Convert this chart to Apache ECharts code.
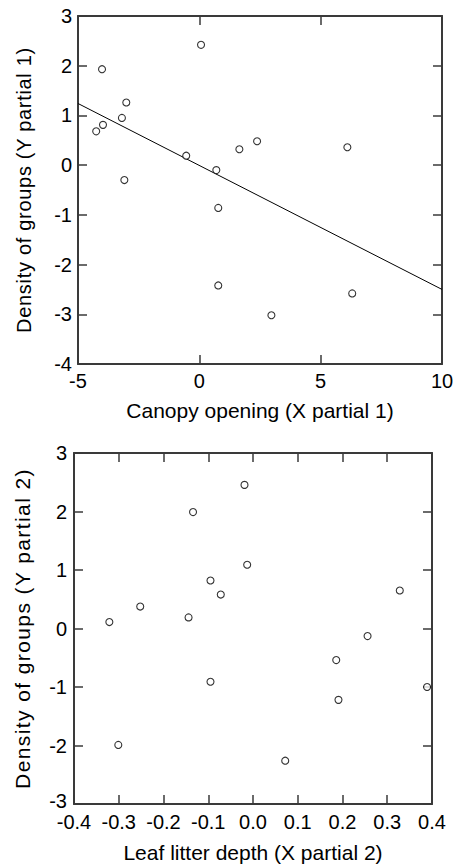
<!DOCTYPE html>
<html>
<head>
<meta charset="utf-8">
<script src="https://cdn.jsdelivr.net/npm/echarts@6/dist/echarts.min.js"></script>
<style>
html,body{margin:0;padding:0;background:#fff;}
#chart{width:457px;height:864px;}
</style>
</head>
<body>
<div id="chart"></div>
<script>
// Panel 1: Canopy opening (X partial 1) vs Density of groups (Y partial 1)
var canopyX = [-4.01, 0.07, -3.01, -3.19, -3.97, -4.25, -0.54, 0.70, 1.65, 2.38, 6.10, -3.09, 0.78, 0.78, 2.97, 6.30];
var densityY1 = [1.93, 2.42, 1.26, 0.95, 0.81, 0.68, 0.19, -0.10, 0.32, 0.48, 0.36, -0.30, -0.86, -2.42, -3.02, -2.58];
var fitLineX = [-5, 10];
var fitLineY = [1.24, -2.50];
var canopyTicks = [-5, 0, 5, 10];
var density1Ticks = [-4, -3, -2, -1, 0, 1, 2, 3];

// Panel 2: Leaf litter depth (X partial 2) vs Density of groups (Y partial 2)
var litterX = [-0.321, -0.252, -0.144, -0.134, -0.095, -0.072, -0.019, -0.013, 0.328, 0.256, 0.186, -0.095, 0.191, 0.389, -0.301, 0.072];
var densityY2 = [0.11, 0.375, 0.19, 1.99, 0.82, 0.58, 2.455, 1.09, 0.65, -0.13, -0.54, -0.91, -1.22, -1.00, -1.99, -2.26];
var litterTicks = ['-0.4', '-0.3', '-0.2', '-0.1', '0.0', '0.1', '0.2', '0.3', '0.4'];
var density2Ticks = [-3, -2, -1, 0, 1, 2, 3];

function zip(a, b) { return a.map(function (v, i) { return [v, b[i]]; }); }

var FONT = '"Liberation Sans", Arial, sans-serif';
var AX = '#3a3a3a';

function axisBase(extra) {
  var o = {
    axisLine: { show: true, onZero: false, lineStyle: { color: AX, width: 2 } },
    axisTick: { show: true, inside: true, length: 9, lineStyle: { color: AX, width: 1.5 } },
    splitLine: { show: false },
    axisLabel: { show: false }
  };
  for (var k in extra) o[k] = extra[k];
  return o;
}
var labelStyle = { show: true, color: '#000', fontFamily: FONT, fontSize: 20, lineHeight: 16 };
var xNameStyle = { color: '#000', fontFamily: FONT, fontSize: 21 };

var chart = echarts.init(document.getElementById('chart'), null, { renderer: 'svg' });
chart.setOption({
  animation: false,
  backgroundColor: '#fff',
  grid: [
    { left: 78, top: 16, width: 364, height: 348 },
    { left: 74, top: 453, width: 358, height: 355 }
  ],
  xAxis: [
    axisBase({ type: 'value', gridIndex: 0, position: 'bottom', min: canopyTicks[0], max: canopyTicks[canopyTicks.length - 1], interval: 5,
      axisLabel: Object.assign({}, labelStyle, { margin: 9 }),
      name: 'Canopy opening (X partial 1)', nameLocation: 'middle', nameGap: 36, nameTextStyle: xNameStyle }),
    axisBase({ type: 'value', gridIndex: 0, position: 'top', min: canopyTicks[0], max: canopyTicks[canopyTicks.length - 1], interval: 5 }),
    axisBase({ type: 'value', gridIndex: 1, position: 'bottom', min: -0.4, max: 0.4, interval: 0.1,
      axisLabel: Object.assign({}, labelStyle, { margin: 10, formatter: function (v) { return litterTicks[Math.round((v + 0.4) * 10)]; } }),
      name: 'Leaf litter depth (X partial 2)', nameLocation: 'middle', nameGap: 38, nameTextStyle: xNameStyle }),
    axisBase({ type: 'value', gridIndex: 1, position: 'top', min: -0.4, max: 0.4, interval: 0.1 })
  ],
  yAxis: [
    axisBase({ type: 'value', gridIndex: 0, position: 'left', min: density1Ticks[0], max: density1Ticks[density1Ticks.length - 1], interval: 1,
      axisLabel: Object.assign({}, labelStyle, { margin: 6 }),
      name: 'Density of groups (Y partial 1)', nameLocation: 'middle', nameGap: 44,
      nameTextStyle: { color: '#000', fontFamily: FONT, fontSize: 20 } }),
    axisBase({ type: 'value', gridIndex: 0, position: 'right', min: density1Ticks[0], max: density1Ticks[density1Ticks.length - 1], interval: 1 }),
    axisBase({ type: 'value', gridIndex: 1, position: 'left', min: density2Ticks[0], max: density2Ticks[density2Ticks.length - 1], interval: 1,
      axisLabel: Object.assign({}, labelStyle, {
        margin: 7,
        formatter: function (v) { return v === density2Ticks[0] ? '{lo|' + v + '}' : String(v); },
        rich: { lo: { color: '#000', fontFamily: FONT, fontSize: 20, lineHeight: 16, padding: [0, 0, 6, 0] } }
      }),
      name: 'Density of groups (Y partial 2)', nameLocation: 'middle', nameGap: 41,
      nameTextStyle: { color: '#000', fontFamily: FONT, fontSize: 21 } }),
    axisBase({ type: 'value', gridIndex: 1, position: 'right', min: density2Ticks[0], max: density2Ticks[density2Ticks.length - 1], interval: 1 })
  ],
  series: [
    { type: 'line', xAxisIndex: 0, yAxisIndex: 0, data: zip(fitLineX, fitLineY), symbol: 'none',
      lineStyle: { color: '#000', width: 1 }, z: 2 },
    { type: 'scatter', xAxisIndex: 0, yAxisIndex: 0, data: zip(canopyX, densityY1), symbol: 'circle', symbolSize: 7,
      itemStyle: { color: '#fff', borderColor: '#000', borderWidth: 1.1 }, z: 3 },
    { type: 'scatter', xAxisIndex: 2, yAxisIndex: 2, data: zip(litterX, densityY2), symbol: 'circle', symbolSize: 7,
      itemStyle: { color: '#fff', borderColor: '#000', borderWidth: 1.1 }, z: 3 }
  ]
});

// the original y-axis titles are slightly letter-spaced
var texts = document.querySelectorAll('#chart svg text');
for (var i = 0; i < texts.length; i++) {
  var t = texts[i].textContent;
  if (t.indexOf('(Y partial 1)') >= 0) texts[i].style.letterSpacing = '0.7px';
  if (t.indexOf('(Y partial 2)') >= 0) texts[i].style.letterSpacing = '1.4px';
}
</script>
</body>
</html>
